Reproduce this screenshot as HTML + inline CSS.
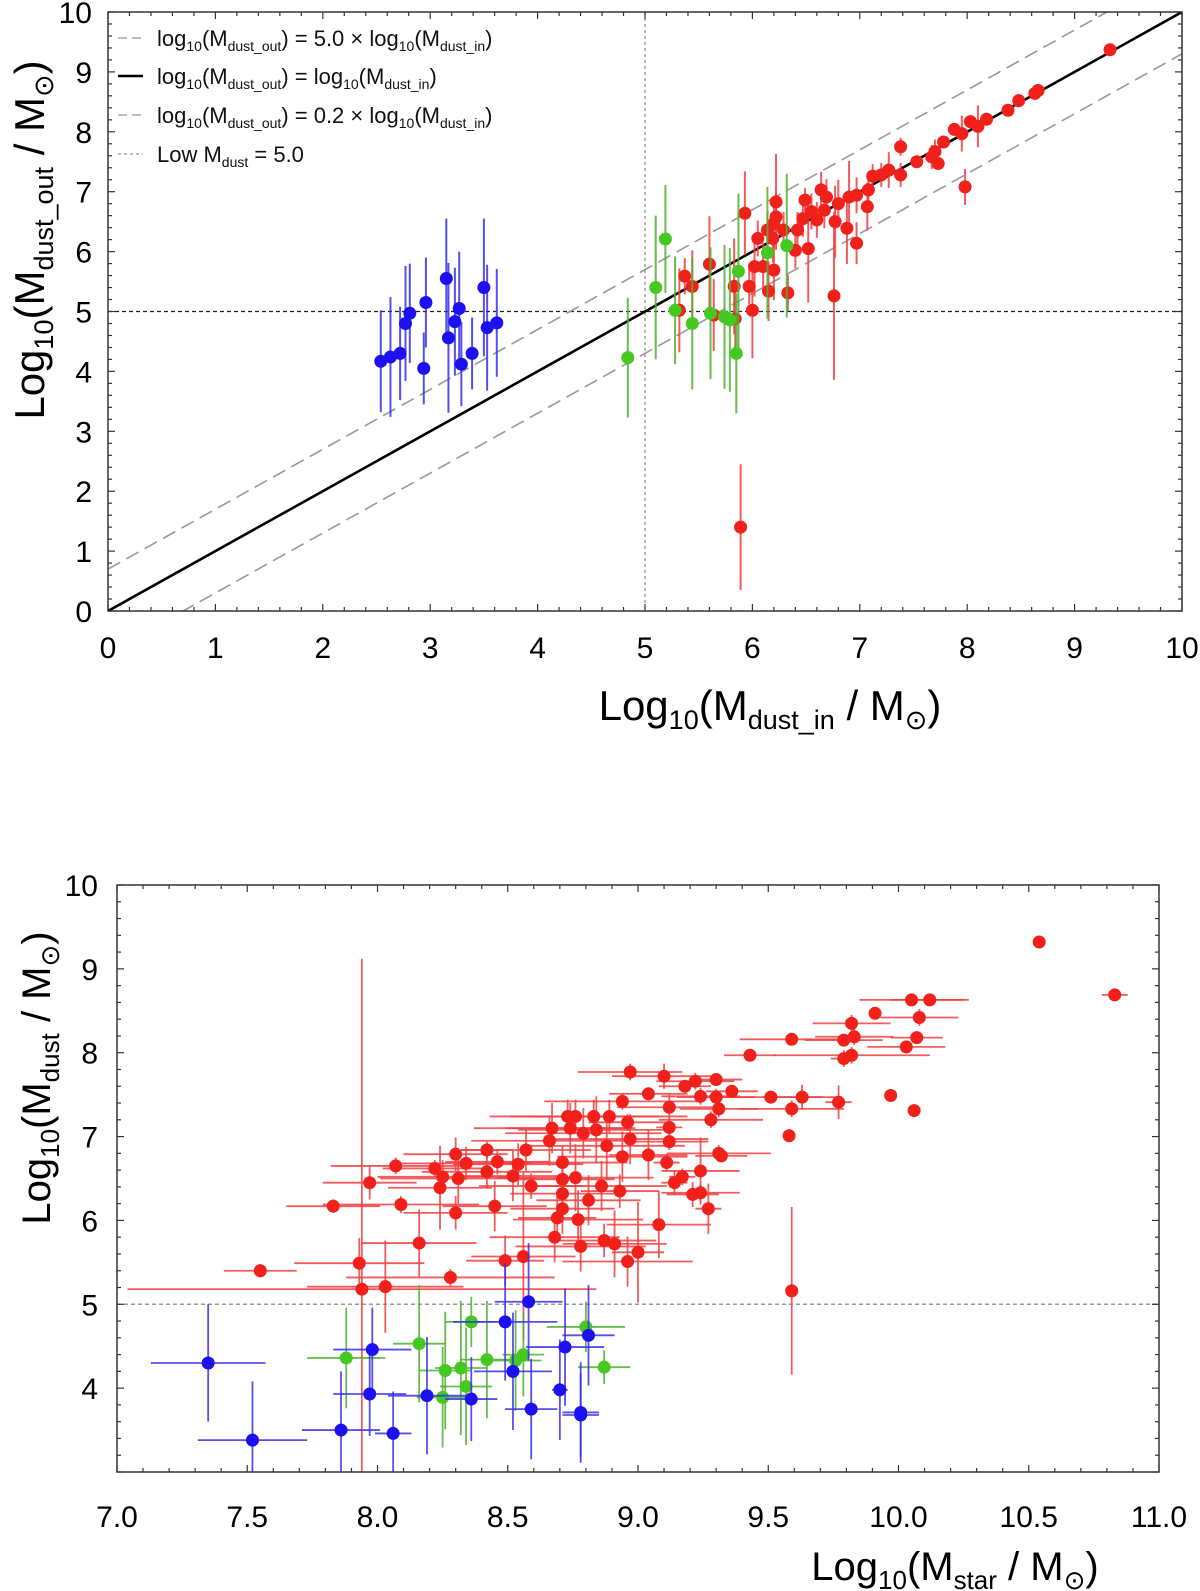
<!DOCTYPE html>
<html><head><meta charset="utf-8"><style>
html,body{margin:0;padding:0;background:#fff;}
svg{display:block;font-family:"Liberation Sans","DejaVu Sans",sans-serif;}
</style></head><body>
<svg id="chart" width="1200" height="1591" viewBox="0 0 1200 1591" xmlns="http://www.w3.org/2000/svg">
<g id="top"></g>
<g id="bot"></g>
</svg>
<script>
// ===== TOP PANEL DATA =====
const topRedX = [9.33,8.66,8.63,8.48,8.38,8.18,8.10,8.03,7.95,7.88,7.78,7.70,7.73,7.67,7.53,7.38,7.38,7.27,7.20,7.12,7.08,7.07,6.97,6.90,6.88,6.97,6.80,6.77,6.69,6.64,6.67,6.55,6.60,6.49,6.47,6.42,6.52,6.40,6.29,6.22,6.22,6.20,6.14,6.05,6.19,5.93,6.02,6.10,6.20,5.97,5.83,6.15,6.33,6.00,5.60,5.37,5.44,5.32,5.64,5.84,6.76,7.98,5.89];
const topRedY = [9.37,8.69,8.64,8.52,8.36,8.21,8.09,8.17,7.97,8.04,7.83,7.67,7.47,7.58,7.50,7.75,7.28,7.36,7.28,7.26,7.03,6.75,6.94,6.91,6.39,6.14,6.80,6.50,6.91,7.03,6.69,6.67,6.53,6.86,6.55,6.36,6.05,6.02,6.36,6.83,6.58,6.47,6.36,6.22,6.22,6.64,5.75,5.75,5.69,5.42,5.42,5.34,5.31,5.02,5.79,5.59,5.42,5.02,4.94,4.88,5.26,7.08,1.40];
const topRedE = [0,0.05,0.05,0,0,0.1,0.35,0.1,0.3,0.1,0.1,0.2,0.1,0.2,0.1,0.15,0.2,0.3,0.2,0.2,0.3,0.4,0.3,0.6,0.6,0.35,0.4,0.6,0.3,0.3,0.3,0.3,0.3,0.2,0.3,0.3,0.9,0.3,0.3,0.8,0.4,0.4,0.3,0.3,0.4,0.7,0.5,0.4,0.5,0.3,0.8,0.5,0.3,0.8,0.8,0.3,0.6,0.7,0.6,0.6,1.4,0.3,1.05];
const topGreenX = [4.84,5.10,5.19,5.28,5.44,5.61,5.74,5.79,5.85,5.87,6.14,6.32];
const topGreenY = [4.23,5.40,6.21,5.02,4.80,4.97,4.91,4.86,4.30,5.67,5.98,6.10];
const topGreenE = [1.0,1.2,0.9,0.9,1.1,1.1,1.2,1.2,1.0,1.3,1.1,1.2];
const topBlueX = [2.54,2.63,2.72,2.77,2.81,2.96,2.94,3.15,3.17,3.23,3.27,3.29,3.39,3.50,3.53,3.62];
const topBlueY = [4.17,4.24,4.30,4.80,4.97,5.15,4.05,5.55,4.56,4.83,5.05,4.12,4.30,5.40,4.73,4.81];
const topBlueE = [0.85,1.0,0.78,0.96,0.83,0.75,0.6,1.0,1.25,0.9,0.95,0.7,0.6,1.15,1.05,0.9];
const topTicks = [0,1,2,3,4,5,6,7,8,9,10];
const topXLabels = ["0","1","2","3","4","5","6","7","8","9","10"];
const lineOffsets = [Math.log10(5), 0, Math.log10(0.2)];
const lowDust = 5.0;

// ===== BOTTOM PANEL DATA =====
const botRedX = [7.55,7.83,7.97,7.93,7.94,8.03,8.07,8.09,8.16,8.22,8.24,8.25,8.30,8.30,8.28,8.31,8.34,8.42,8.42,8.46,8.45,8.49,8.52,8.54,8.57,8.56,8.59,8.66,8.67,8.71,8.71,8.71,8.71,8.69,8.68,8.73,8.76,8.74,8.76,8.77,8.79,8.78,8.83,8.84,8.81,8.86,8.89,8.88,8.87,8.91,8.94,8.94,8.93,8.96,8.97,
 10.54,10.83,10.05,10.12,9.91,10.08,9.82,9.59,9.79,9.83,10.07,10.03,9.43,9.82,9.79,8.97,9.10,9.22,9.30,9.18,9.04,9.36,9.24,9.30,9.51,9.63,9.77,9.97,9.59,10.06,9.12,9.31,9.28,9.58,9.12,8.96,9.12,9.31,9.32,9.04,9.11,9.24,9.17,9.14,9.21,9.24,9.27,9.08,9.00,9.59];
const botRedY = [5.40,6.17,6.45,5.49,5.18,5.21,6.65,6.19,5.73,6.62,6.39,6.52,6.79,6.09,5.32,6.50,6.68,6.84,6.58,6.70,6.17,5.52,6.53,6.67,6.84,5.57,6.41,6.95,7.10,6.69,6.32,6.49,6.14,6.03,5.80,7.24,7.24,7.10,6.51,6.01,7.04,5.69,7.24,7.08,6.24,6.41,7.24,6.89,5.76,5.72,7.42,6.76,6.35,5.51,6.97,
 9.32,8.69,8.63,8.63,8.47,8.42,8.35,8.16,8.15,8.19,8.18,8.07,7.97,7.97,7.93,7.77,7.72,7.66,7.68,7.60,7.51,7.54,7.48,7.47,7.47,7.47,7.41,7.49,7.33,7.31,7.35,7.33,7.20,7.01,7.11,7.17,6.94,6.80,6.77,6.78,6.69,6.59,6.52,6.45,6.31,6.33,6.14,5.95,5.62,5.16];
const botRedXE = [0.14,0.18,0.18,0.25,0.9,0.3,0.25,0.3,0.22,0.2,0.2,0.25,0.2,0.2,0.4,0.3,0.25,0.1,0.25,0.2,0.2,0.15,0.2,0.25,0.25,0.2,0.2,0.3,0.3,0.25,0.2,0.2,0.2,0.15,0.25,0.3,0.25,0.25,0.3,0.25,0.3,0.25,0.25,0.3,0.2,0.25,0.3,0.3,0.2,0.2,0.3,0.25,0.15,0.25,0.3,
 0,0.05,0.2,0.15,0,0.15,0.15,0.2,0.15,0.15,0.1,0.15,0.1,0.3,0.05,0.2,0.2,0.15,0.1,0.1,0.15,0.1,0.15,0.15,0.2,0.15,0.05,0,0.2,0,0.2,0.15,0.2,0,0.05,0.15,0.15,0.2,0.1,0.15,0.05,0.15,0.05,0.05,0.1,0.15,0.05,0.2,0.1,0];
const botRedYE = [0.08,0.08,0.2,0.3,3.94,0.55,0.1,0.1,0.4,0.1,0.5,0.2,0.2,0.2,0.1,0.3,0.2,0.1,0.2,0.15,0.3,0.3,0.3,0.25,0.25,1.0,0.15,0.3,0.3,0.2,0.3,0.3,0.3,0.3,0.3,0.2,0.2,0.3,0.4,0.35,0.3,0.3,0.2,0.4,0.3,0.3,0.2,0.4,0.2,0.4,0.1,0.3,0.2,0.3,0.3,
 0,0,0,0,0,0.1,0.1,0,0.05,0.1,0.05,0,0,0.1,0.1,0.1,0.15,0.1,0,0,0,0,0.1,0.1,0.05,0.15,0.2,0,0.1,0,0.15,0.1,0.1,0,0.1,0.1,0.1,0.1,0,0.3,0.1,0.4,0.1,0.15,0.15,0.1,0.3,0.4,0.6,1.0];
const botBlueX = [7.35,7.52,7.86,7.98,7.97,8.06,8.19,8.36,8.49,8.58,8.52,8.59,8.72,8.70,8.81,8.78,8.78];
const botBlueY = [4.30,3.38,3.50,4.46,3.93,3.46,3.91,3.87,4.79,5.03,4.20,3.75,4.49,3.98,4.63,3.71,3.68];
const botBlueXE = [0.22,0.21,0.15,0.15,0.14,0.07,0.15,0.1,0.2,0.13,0.15,0.1,0.15,0.03,0.1,0.07,0.07];
const botBlueYE = [0.7,0.7,0.7,0.5,0.5,0.5,0.7,0.5,0.7,0.7,0.7,0.6,0.7,0.6,0.6,0.6,0.5];
const botGreenX = [7.88,8.16,8.36,8.26,8.32,8.25,8.34,8.42,8.53,8.56,8.80,8.87];
const botGreenY = [4.36,4.53,4.79,4.21,4.24,3.89,4.02,4.34,4.33,4.40,4.73,4.25];
const botGreenXE = [0.15,0.1,0.1,0.1,0.1,0.1,0.1,0.1,0.1,0.08,0.15,0.1];
const botGreenYE = [0.6,0.7,0.3,0.7,0.8,0.6,0.7,0.7,0.6,0.5,0.3,0.2];
const botXTicks = [7.0,7.5,8.0,8.5,9.0,9.5,10.0,10.5,11.0];
const botXLabels = ["7.0","7.5","8.0","8.5","9.0","9.5","10.0","10.5","11.0"];
const botYTicks = [4,5,6,7,8,9,10];

const NS = "http://www.w3.org/2000/svg";
const RED="#f2201a", BLUE="#1c10f2", GREEN="#45c81f";
const RED_E="#f04040", BLUE_E="#3a30e8", GREEN_E="#50b030";
function el(tag, attrs, parent){const e=document.createElementNS(NS,tag);for(const k in attrs)e.setAttribute(k,attrs[k]);parent.appendChild(e);return e;}

// ---------- TOP ----------
const T = {L:108,R:1182,Tp:12,B:611,x0:0,x1:10,y0:0,y1:10};
const tx = v => T.L + (v-T.x0)/(T.x1-T.x0)*(T.R-T.L);
const ty = v => T.B - (v-T.y0)/(T.y1-T.y0)*(T.B-T.Tp);
const topG = document.getElementById('top');
const clipT = el('clipPath',{id:'clipT'},topG);
el('rect',{x:T.L,y:T.Tp,width:T.R-T.L,height:T.B-T.Tp},clipT);

const vref = el('line',{x1:tx(lowDust),x2:tx(lowDust),y1:T.Tp,y2:T.B,stroke:'#888','stroke-width':1.2,'stroke-dasharray':'3,3'},topG);


const href = el('line',{x1:T.L,x2:T.R,y1:ty(lowDust),y2:ty(lowDust),stroke:'#222','stroke-width':1.3,'stroke-dasharray':'4,3'},topG);


const lineNames=['upper-factor5-line','one-to-one-line','lower-factor02-line'];
lineOffsets.forEach((off,i)=>{
  const l = el('line',{x1:tx(0),y1:ty(0+off),x2:tx(10),y2:ty(10+off),stroke: i===1?'#000':'#999','stroke-width': i===1?2.6:1.6,'clip-path':'url(#clipT)'},topG);
  if(i!==1) l.setAttribute('stroke-dasharray','14,7');
  
  
});

function drawTopSeries(xs,ys,es,col,ecol,name){
  const g = el('g',{'clip-path':'url(#clipT)'},topG);
  
  
  xs.forEach((x,i)=>{
    const e = el('line',{x1:tx(x),x2:tx(x),y1:ty(ys[i]-es[i]),y2:ty(ys[i]+es[i]),stroke:ecol,'stroke-width':2,'stroke-opacity':0.85},g);
    
    
  });
  xs.forEach((x,i)=>{
    const c = el('circle',{cx:tx(x),cy:ty(ys[i]),r:6.5,fill:col},g);
    
    
  });
}
drawTopSeries(topBlueX,topBlueY,topBlueE,BLUE,BLUE_E,'top-blue');
drawTopSeries(topRedX,topRedY,topRedE,RED,RED_E,'top-red');
drawTopSeries(topGreenX,topGreenY,topGreenE,GREEN,GREEN_E,'top-green');

const fT = el('rect',{x:T.L,y:T.Tp,width:T.R-T.L,height:T.B-T.Tp,fill:'none',stroke:'#333','stroke-width':1.5},topG);


for(let k=0;k<=50;k++){
  const v=k*0.2, major=(k%5===0), len=major?7:4;
  el('line',{x1:tx(v),x2:tx(v),y1:T.B,y2:T.B-len,stroke:'#333','stroke-width':1.2},topG);
  el('line',{x1:tx(v),x2:tx(v),y1:T.Tp,y2:T.Tp+len,stroke:'#333','stroke-width':1.2},topG);
  el('line',{x1:T.L,x2:T.L+len,y1:ty(v),y2:ty(v),stroke:'#333','stroke-width':1.2},topG);
  el('line',{x1:T.R,x2:T.R-len,y1:ty(v),y2:ty(v),stroke:'#333','stroke-width':1.2},topG);
}
topTicks.forEach((v,i)=>{
  const t = el('text',{x:tx(v),y:658,'text-anchor':'middle','font-size':30,fill:'#000'},topG);
  t.textContent=topXLabels[i];
  
  
  const u = el('text',{x:92,y:ty(v)+11,'text-anchor':'end','font-size':30,fill:'#000'},topG);
  u.textContent=topXLabels[i];
  
  
});

// ---------- BOTTOM ----------
const Bp = {L:117,R:1159,Tp:885,B:1472,x0:7,x1:11,y0:3,y1:10};
const bx = v => Bp.L + (v-Bp.x0)/(Bp.x1-Bp.x0)*(Bp.R-Bp.L);
const by = v => Bp.B - (v-Bp.y0)/(Bp.y1-Bp.y0)*(Bp.B-Bp.Tp);
const botG=document.getElementById('bot');
const clipB = el('clipPath',{id:'clipB'},botG);
el('rect',{x:Bp.L,y:Bp.Tp,width:Bp.R-Bp.L,height:Bp.B-Bp.Tp},clipB);
const bref = el('line',{x1:Bp.L,x2:Bp.R,y1:by(lowDust),y2:by(lowDust),stroke:'#999','stroke-width':1.5,'stroke-dasharray':'4,3'},botG);



function drawBotSeries(xs,ys,xe,ye,col,ecol,name){
  const g = el('g',{'clip-path':'url(#clipB)'},botG);
  
  
  xs.forEach((x,i)=>{
    if(xe[i]>0){
      const h = el('line',{x1:bx(x-xe[i]),x2:bx(x+xe[i]),y1:by(ys[i]),y2:by(ys[i]),stroke:ecol,'stroke-width':1.8,'stroke-opacity':0.85},g);
      
      
    }
    if(ye[i]>0){
      const v = el('line',{x1:bx(x),x2:bx(x),y1:by(ys[i]-ye[i]),y2:by(ys[i]+ye[i]),stroke:ecol,'stroke-width':1.8,'stroke-opacity':0.85},g);
      
      
    }
  });
  xs.forEach((x,i)=>{
    const c = el('circle',{cx:bx(x),cy:by(ys[i]),r:6.5,fill:col},g);
    
    
  });
}
drawBotSeries(botRedX,botRedY,botRedXE,botRedYE,RED,RED_E,'bottom-red');
drawBotSeries(botGreenX,botGreenY,botGreenXE,botGreenYE,GREEN,GREEN_E,'bottom-green');
drawBotSeries(botBlueX,botBlueY,botBlueXE,botBlueYE,BLUE,BLUE_E,'bottom-blue');

const fB = el('rect',{x:Bp.L,y:Bp.Tp,width:Bp.R-Bp.L,height:Bp.B-Bp.Tp,fill:'none',stroke:'#333','stroke-width':1.5},botG);


for(let k=0;k<=40;k++){
  const v=7+k*0.1, major=(k%5===0), len=major?7:4;
  el('line',{x1:bx(v),x2:bx(v),y1:Bp.B,y2:Bp.B-len,stroke:'#333','stroke-width':1.2},botG);
  el('line',{x1:bx(v),x2:bx(v),y1:Bp.Tp,y2:Bp.Tp+len,stroke:'#333','stroke-width':1.2},botG);
}
for(let k=0;k<=35;k++){
  const v=3+k*0.2, major=(k%5===0), len=major?7:4;
  el('line',{x1:Bp.L,x2:Bp.L+len,y1:by(v),y2:by(v),stroke:'#333','stroke-width':1.2},botG);
  el('line',{x1:Bp.R,x2:Bp.R-len,y1:by(v),y2:by(v),stroke:'#333','stroke-width':1.2},botG);
}
botXTicks.forEach((v,i)=>{
  const t = el('text',{x:bx(v),y:1527,'text-anchor':'middle','font-size':30,fill:'#000'},botG);
  t.textContent=botXLabels[i];
  
  
});
botYTicks.forEach(v=>{
  const t = el('text',{x:98,y:by(v)+11,'text-anchor':'end','font-size':30,fill:'#000'},botG);
  t.textContent=String(v);
  
  
});
botG.insertAdjacentHTML('beforeend',`
<text x="955" y="1580" text-anchor="middle" font-size="40" fill="#000">Log<tspan font-size="26" dy="9">10</tspan><tspan dy="-9">(M</tspan><tspan font-size="26" dy="9">star</tspan><tspan dy="-9"> / M</tspan><tspan font-size="26" dy="9">⊙</tspan><tspan dy="-9">)</tspan></text>
<text transform="translate(50,1078) rotate(-90)" text-anchor="middle" font-size="40" fill="#000">Log<tspan font-size="26" dy="9">10</tspan><tspan dy="-9">(M</tspan><tspan font-size="26" dy="9">dust</tspan><tspan dy="-9"> / M</tspan><tspan font-size="26" dy="9">⊙</tspan><tspan dy="-9">)</tspan></text>`);
</script>
<script>
(function(){
const tg=document.getElementById('top');
tg.insertAdjacentHTML('beforeend',`
<text x="770" y="720" text-anchor="middle" font-size="42" fill="#000">Log<tspan font-size="27" dy="9">10</tspan><tspan dy="-9">(M</tspan><tspan font-size="27" dy="9">dust_in</tspan><tspan dy="-9"> / M</tspan><tspan font-size="27" dy="9">⊙</tspan><tspan dy="-9">)</tspan></text>
<text transform="translate(44,240) rotate(-90)" text-anchor="middle" font-size="42" fill="#000">Log<tspan font-size="27" dy="9">10</tspan><tspan dy="-9">(M</tspan><tspan font-size="27" dy="9">dust_out</tspan><tspan dy="-9"> / M</tspan><tspan font-size="27" dy="9">⊙</tspan><tspan dy="-9">)</tspan></text>
<g font-size="22" fill="#111">
 <g><line x1="118" x2="143" y1="38" y2="38" stroke="#aaa" stroke-width="1.5" stroke-dasharray="9,5"/><text x="157" y="46">log<tspan font-size="14" dy="5">10</tspan><tspan dy="-5">(M</tspan><tspan font-size="14" dy="5">dust_out</tspan><tspan dy="-5">) = 5.0 × log</tspan><tspan font-size="14" dy="5">10</tspan><tspan dy="-5">(M</tspan><tspan font-size="14" dy="5">dust_in</tspan><tspan dy="-5">)</tspan></text></g>
 <g><line x1="118" x2="143" y1="76" y2="76" stroke="#000" stroke-width="2.5"/><text x="157" y="84">log<tspan font-size="14" dy="5">10</tspan><tspan dy="-5">(M</tspan><tspan font-size="14" dy="5">dust_out</tspan><tspan dy="-5">) = log</tspan><tspan font-size="14" dy="5">10</tspan><tspan dy="-5">(M</tspan><tspan font-size="14" dy="5">dust_in</tspan><tspan dy="-5">)</tspan></text></g>
 <g><line x1="118" x2="143" y1="115" y2="115" stroke="#aaa" stroke-width="1.5" stroke-dasharray="9,5"/><text x="157" y="123">log<tspan font-size="14" dy="5">10</tspan><tspan dy="-5">(M</tspan><tspan font-size="14" dy="5">dust_out</tspan><tspan dy="-5">) = 0.2 × log</tspan><tspan font-size="14" dy="5">10</tspan><tspan dy="-5">(M</tspan><tspan font-size="14" dy="5">dust_in</tspan><tspan dy="-5">)</tspan></text></g>
 <g><line x1="118" x2="143" y1="154" y2="154" stroke="#999" stroke-width="1.2" stroke-dasharray="3,3"/><text x="157" y="162">Low M<tspan font-size="14" dy="5">dust</tspan><tspan dy="-5"> = 5.0</tspan></text></g>
</g>`);
})();
</script>
</body></html>
